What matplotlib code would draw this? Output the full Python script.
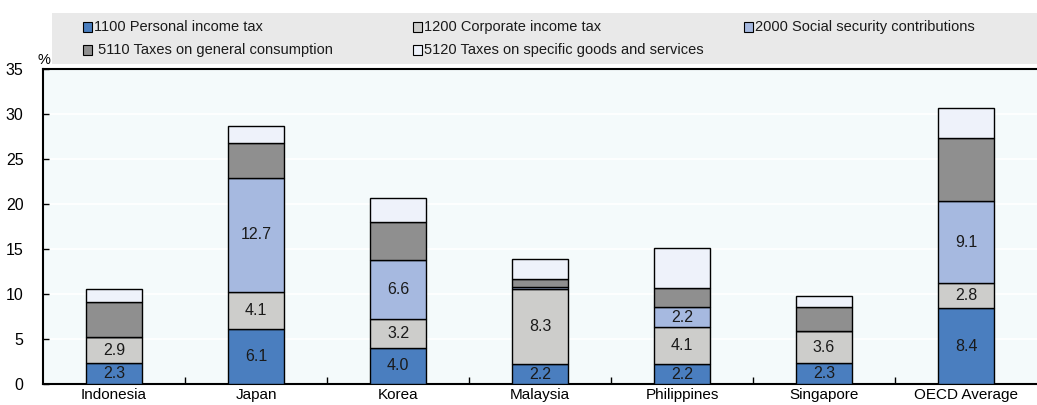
import numpy as np
import matplotlib
matplotlib.use("Agg")
import matplotlib.pyplot as plt
from matplotlib.patches import Rectangle

plt.rcParams['font.family'] = ['Liberation Sans Narrow', 'Liberation Sans', 'DejaVu Sans']

countries = ["Indonesia", "Japan", "Korea", "Malaysia", "Philippines", "Singapore", "OECD Average"]

# tax revenue by category, % of GDP
pit = [2.3, 6.1, 4.0, 2.2, 2.2, 2.3, 8.4]
cit = [2.9, 4.1, 3.2, 8.3, 4.1, 3.6, 2.8]
ssc = [0.0, 12.7, 6.6, 0.3, 2.2, 0.0, 9.1]
gen_cons = [3.9, 3.9, 4.2, 0.9, 2.2, 2.6, 7.0]
spec_goods = [1.5, 1.9, 2.7, 2.2, 4.4, 1.3, 3.3]

series = [
    ("1100 Personal income tax", pit, "#4a7ebf", True),
    ("1200 Corporate income tax", cit, "#cdcdcb", True),
    ("2000 Social security contributions", ssc, "#a6b9e0", True),
    (" 5110 Taxes on general consumption", gen_cons, "#8f8f8f", False),
    ("5120 Taxes on specific goods and services", spec_goods, "#eef2fa", False),
]

fig = plt.figure(figsize=(10.37, 4.05), dpi=100)
ax = fig.add_axes([0.0415, 0.052, 0.9585, 0.778])
ax.set_facecolor("#f4fafb")

x = np.arange(len(countries))
bottom = np.zeros(len(countries))
for name, vals, col, show in series:
    vals = np.array(vals)
    ax.bar(x, vals, 0.4, bottom=bottom, color=col, edgecolor="black",
           linewidth=1.0, zorder=3)
    if show:
        for xi, b, v in zip(x, bottom, vals):
            if v >= 1.0:
                ax.text(xi, b + v / 2, f"{v:.1f}", ha="center", va="center",
                        fontsize=11.5, color="#1a1a1a", zorder=4)
    bottom += vals

ax.set_xlim(-0.5, len(countries) - 0.5)
ax.set_ylim(0, 35)
ax.set_yticks(np.arange(0, 36, 5))
ax.yaxis.grid(True, color="white", linewidth=1.2, zorder=0)
ax.set_axisbelow(True)

ax.set_xticks(x)
ax.set_xticklabels(countries, fontsize=11)
ax.set_xticks(np.arange(0.5, len(countries) - 0.5), minor=True)
ax.tick_params(axis="x", which="major", length=0, pad=3)
ax.tick_params(axis="x", which="minor", direction="in", length=5, width=1)
ax.tick_params(axis="y", direction="in", length=4, width=1, labelsize=11.5, pad=14)

for s in ["left", "bottom", "top"]:
    ax.spines[s].set_linewidth(1.5)
    ax.spines[s].set_color("black")
ax.spines["right"].set_visible(False)

fig.text(0.036, 0.835, "%", fontsize=10.5, ha="left", va="bottom")

# legend panel
fig.patches.append(Rectangle((52 / 1037, 1 - 64 / 405), 985 / 1037, 51 / 405,
                             transform=fig.transFigure, facecolor="#e9e9e9",
                             edgecolor="none", zorder=0))
cols = [83, 413, 744]
rows = [27, 50]
for i, (name, vals, col, show) in enumerate(series):
    cx = cols[i % 3]
    cy = rows[i // 3]
    fig.patches.append(Rectangle((cx / 1037, 1 - (cy + 4.5) / 405), 9 / 1037, 9 / 405,
                                 transform=fig.transFigure, facecolor=col,
                                 edgecolor="black", linewidth=0.8, zorder=2))
    fig.text((cx + 11) / 1037, 1 - cy / 405, name, fontsize=10.5,
             ha="left", va="center", color="#1a1a1a")

fig.savefig("out.png", dpi=100)
